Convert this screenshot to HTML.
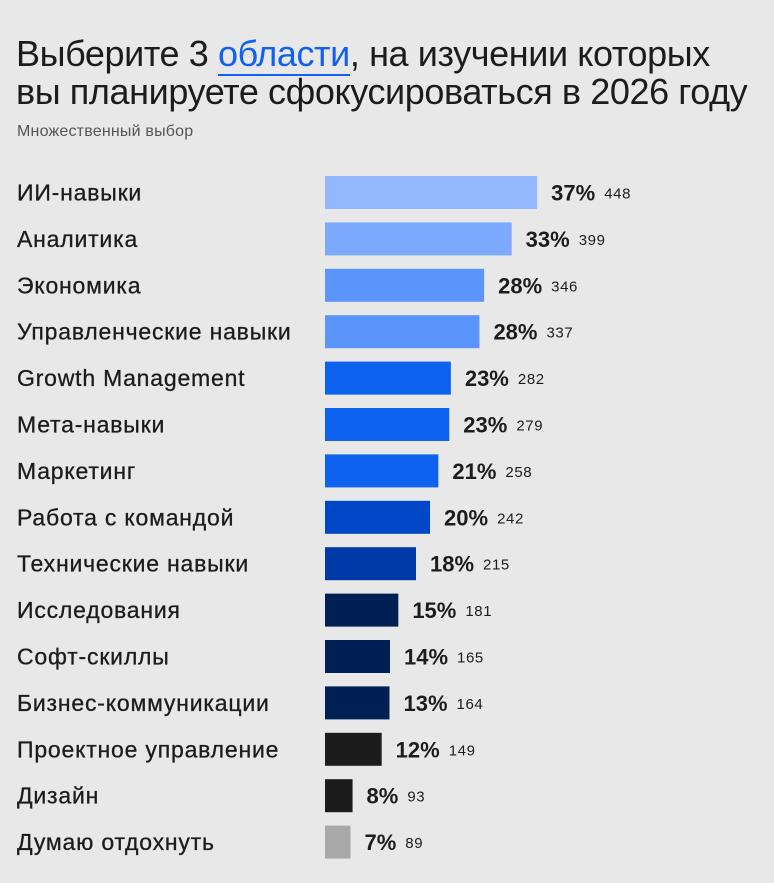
<!DOCTYPE html>
<html><head><meta charset="utf-8"><style>
body{margin:0;background:#e8e8e8;width:774px;height:883px;overflow:hidden;font-family:"Liberation Sans","DejaVu Sans",sans-serif;color:#1c1c1c}
#title{position:absolute;left:16px;top:35px;font-size:36px;line-height:38px;letter-spacing:-0.4px;margin:0;font-weight:normal;white-space:nowrap}
#title .hl{color:#1160f0;border-bottom:2px solid #1160f0}
#sub{position:absolute;left:17px;top:123px;font-size:16px;color:#555;letter-spacing:0.2px}
svg{position:absolute;left:0;top:0}
</style></head><body>
<h1 id="title">Выберите 3 <span class="hl">области</span>, на изучении которых<br>вы планируете сфокусироваться в 2026 году</h1>
<div id="sub">Множественный выбор</div>
<svg id="chart" width="774" height="883"></svg>
<script>
const categories=["ИИ-навыки","Аналитика","Экономика","Управленческие навыки","Growth Management","Мета-навыки","Маркетинг","Работа с командой","Технические навыки","Исследования","Софт-скиллы","Бизнес-коммуникации","Проектное управление","Дизайн","Думаю отдохнуть"];
const percents=[37,33,28,28,23,23,21,20,18,15,14,13,12,8,7];
const counts=[448,399,346,337,282,279,258,242,215,181,165,164,149,93,89];
const colors=["#93b8fd","#7eaafd","#5b95fb","#5b95fb","#0e62f0","#0e62f0","#0e62f0","#0047c8","#003aa6","#001f52","#001f52","#001f52","#1c1c1c","#1c1c1c","#a8a8a8"];
const NS="http://www.w3.org/2000/svg";
const svg=document.getElementById('chart');
const x0=325;
function xw(c){return Math.max(10,0.52*(c-40));}
function yc(i){return 192.5+i*46.4;}
function mk(t,a){const e=document.createElementNS(NS,t);for(const k in a)e.setAttribute(k,a[k]);svg.appendChild(e);return e;}
categories.forEach((c,i)=>{
  const y=yc(i),w=xw(counts[i]);
  const l=mk('text',{x:17,y:y+8,'font-size':23,'letter-spacing':0.8,fill:'#1c1c1c',stroke:'#1c1c1c','stroke-width':0.3});l.textContent=c;
  
  
  const r=mk('rect',{x:x0,y:y-16.5,width:w,height:33,fill:colors[i]});
  
  
  const p=mk('text',{x:x0+w+14,y:y+8,'font-size':22,'font-weight':'bold',fill:'#1c1c1c'});p.textContent=percents[i]+'%';
  
  
  const pw=p.getComputedTextLength();
  const n=mk('text',{x:x0+w+14+pw+9,y:y+6,'font-size':15,'letter-spacing':0.6,fill:'#1c1c1c'});n.textContent=counts[i];
  
  
});
</script>
</body></html>
